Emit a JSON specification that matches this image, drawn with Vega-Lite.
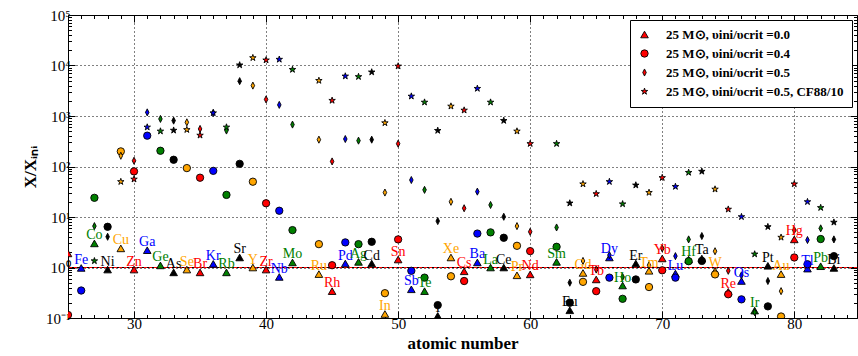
{
"$schema": "https://vega.github.io/schema/vega-lite/v6.json",
"width": 789, "height": 303,
"autosize": {"type": "none"},
"padding": {"left": 68, "top": 15, "right": 1, "bottom": 38},
"config": {"view": {"stroke": "black", "strokeWidth": 1}, "font": "Liberation Serif", "axis": {"labelFont": "Liberation Serif", "titleFont": "Liberation Serif", "labelColor": "black", "titleColor": "black", "tickColor": "black"}},
"data": {"values": [
{"Z":25,"el":"Mn","m":"a","v":1.9},{"Z":25,"el":"Mn","m":"b","v":0.115},
{"Z":26,"el":"Fe","m":"a","v":0.98},{"Z":26,"el":"Fe","m":"b","v":0.35},
{"Z":27,"el":"Co","m":"a","v":3.0},{"Z":27,"el":"Co","m":"b","v":24},{"Z":27,"el":"Co","m":"c","v":6.6},{"Z":27,"el":"Co","m":"d","v":1.35},
{"Z":28,"el":"Ni","m":"a","v":0.91},{"Z":28,"el":"Ni","m":"b","v":6.4},{"Z":28,"el":"Ni","m":"c","v":4.06},
{"Z":29,"el":"Cu","m":"a","v":2.39},{"Z":29,"el":"Cu","m":"b","v":199},{"Z":29,"el":"Cu","m":"c","v":163},{"Z":29,"el":"Cu","m":"d","v":50},
{"Z":30,"el":"Zn","m":"a","v":0.91},{"Z":30,"el":"Zn","m":"b","v":80},{"Z":30,"el":"Zn","m":"c","v":130},{"Z":30,"el":"Zn","m":"d","v":56},
{"Z":31,"el":"Ga","m":"a","v":2.2},{"Z":31,"el":"Ga","m":"b","v":408},{"Z":31,"el":"Ga","m":"c","v":1180},{"Z":31,"el":"Ga","m":"d","v":600},
{"Z":32,"el":"Ge","m":"a","v":1.1},{"Z":32,"el":"Ge","m":"b","v":205},{"Z":32,"el":"Ge","m":"c","v":875},{"Z":32,"el":"Ge","m":"d","v":500},
{"Z":33,"el":"As","m":"a","v":0.8},{"Z":33,"el":"As","m":"b","v":136},{"Z":33,"el":"As","m":"c","v":810},{"Z":33,"el":"As","m":"d","v":520},
{"Z":34,"el":"Se","m":"a","v":0.91},{"Z":34,"el":"Se","m":"b","v":93},{"Z":34,"el":"Se","m":"c","v":750},{"Z":34,"el":"Se","m":"d","v":535},
{"Z":35,"el":"Br","m":"a","v":0.8},{"Z":35,"el":"Br","m":"b","v":60},{"Z":35,"el":"Br","m":"c","v":555},{"Z":35,"el":"Br","m":"d","v":415},
{"Z":36,"el":"Kr","m":"a","v":1.18},{"Z":36,"el":"Kr","m":"b","v":82},{"Z":36,"el":"Kr","m":"c","v":1150},{"Z":36,"el":"Kr","m":"d","v":1150},
{"Z":37,"el":"Rb","m":"a","v":0.8},{"Z":37,"el":"Rb","m":"b","v":27.4},{"Z":37,"el":"Rb","m":"c","v":515},{"Z":37,"el":"Rb","m":"d","v":600},
{"Z":38,"el":"Sr","m":"a","v":1.58},{"Z":38,"el":"Sr","m":"b","v":113},{"Z":38,"el":"Sr","m":"c","v":4900},{"Z":38,"el":"Sr","m":"d","v":10200},
{"Z":39,"el":"Y","m":"a","v":1.0},{"Z":39,"el":"Y","m":"b","v":50},{"Z":39,"el":"Y","m":"c","v":4000},{"Z":39,"el":"Y","m":"d","v":14200},
{"Z":40,"el":"Zr","m":"a","v":0.91},{"Z":40,"el":"Zr","m":"b","v":18.7},{"Z":40,"el":"Zr","m":"c","v":2130},{"Z":40,"el":"Zr","m":"d","v":12800},
{"Z":41,"el":"Nb","m":"a","v":0.65},{"Z":41,"el":"Nb","m":"b","v":13.3},{"Z":41,"el":"Nb","m":"c","v":1660},{"Z":41,"el":"Nb","m":"d","v":13200},
{"Z":42,"el":"Mo","m":"a","v":1.26},{"Z":42,"el":"Mo","m":"b","v":5.5},{"Z":42,"el":"Mo","m":"c","v":676},{"Z":42,"el":"Mo","m":"d","v":8300},
{"Z":44,"el":"Ru","m":"a","v":0.74},{"Z":44,"el":"Ru","m":"b","v":2.9},{"Z":44,"el":"Ru","m":"c","v":340},{"Z":44,"el":"Ru","m":"d","v":5030},
{"Z":45,"el":"Rh","m":"a","v":0.34},{"Z":45,"el":"Rh","m":"b","v":1.11},{"Z":45,"el":"Rh","m":"c","v":126},{"Z":45,"el":"Rh","m":"d","v":2030},
{"Z":46,"el":"Pd","m":"a","v":1.2},{"Z":46,"el":"Pd","m":"b","v":3.14},{"Z":46,"el":"Pd","m":"c","v":350},{"Z":46,"el":"Pd","m":"d","v":6150},
{"Z":47,"el":"Ag","m":"a","v":1.29},{"Z":47,"el":"Ag","m":"b","v":2.9},{"Z":47,"el":"Ag","m":"c","v":325},{"Z":47,"el":"Ag","m":"d","v":6000},
{"Z":48,"el":"Cd","m":"a","v":1.2},{"Z":48,"el":"Cd","m":"b","v":3.23},{"Z":48,"el":"Cd","m":"c","v":340},{"Z":48,"el":"Cd","m":"d","v":7400},
{"Z":49,"el":"In","m":"a","v":0.12},{"Z":49,"el":"In","m":"b","v":0.31},{"Z":49,"el":"In","m":"c","v":30.5},{"Z":49,"el":"In","m":"d","v":730},
{"Z":50,"el":"Sn","m":"a","v":1.44},{"Z":50,"el":"Sn","m":"b","v":3.6},{"Z":50,"el":"Sn","m":"c","v":283},{"Z":50,"el":"Sn","m":"d","v":9700},
{"Z":51,"el":"Sb","m":"a","v":0.37},{"Z":51,"el":"Sb","m":"b","v":0.86},{"Z":51,"el":"Sb","m":"c","v":54},{"Z":51,"el":"Sb","m":"d","v":2460},
{"Z":52,"el":"Te","m":"a","v":0.34},{"Z":52,"el":"Te","m":"b","v":0.63},{"Z":52,"el":"Te","m":"c","v":34.5},{"Z":52,"el":"Te","m":"d","v":1870},
{"Z":53,"el":"I","m":"a","v":0.11},{"Z":53,"el":"I","m":"b","v":0.18},{"Z":53,"el":"I","m":"c","v":8.3},{"Z":53,"el":"I","m":"d","v":515},
{"Z":54,"el":"Xe","m":"a","v":1.58},{"Z":54,"el":"Xe","m":"b","v":0.67},{"Z":54,"el":"Xe","m":"c","v":20},{"Z":54,"el":"Xe","m":"d","v":1560},
{"Z":55,"el":"Cs","m":"a","v":0.84},{"Z":55,"el":"Cs","m":"b","v":0.54},{"Z":55,"el":"Cs","m":"c","v":14.9},{"Z":55,"el":"Cs","m":"d","v":1300},
{"Z":56,"el":"Ba","m":"a","v":1.26},{"Z":56,"el":"Ba","m":"b","v":4.7},{"Z":56,"el":"Ba","m":"c","v":31.8},{"Z":56,"el":"Ba","m":"d","v":3500},
{"Z":57,"el":"La","m":"a","v":1.0},{"Z":57,"el":"La","m":"b","v":4.96},{"Z":57,"el":"La","m":"c","v":17.3},{"Z":57,"el":"La","m":"d","v":1870},
{"Z":58,"el":"Ce","m":"a","v":1.0},{"Z":58,"el":"Ce","m":"b","v":3.88},{"Z":58,"el":"Ce","m":"c","v":10.1},{"Z":58,"el":"Ce","m":"d","v":810},
{"Z":59,"el":"Pr","m":"a","v":0.7},{"Z":59,"el":"Pr","m":"b","v":2.69},{"Z":59,"el":"Pr","m":"c","v":6.6},{"Z":59,"el":"Pr","m":"d","v":500},
{"Z":60,"el":"Nd","m":"a","v":0.73},{"Z":60,"el":"Nd","m":"b","v":2.11},{"Z":60,"el":"Nd","m":"c","v":5.1},{"Z":60,"el":"Nd","m":"d","v":283},
{"Z":62,"el":"Sm","m":"a","v":1.29},{"Z":62,"el":"Sm","m":"b","v":2.57},{"Z":62,"el":"Sm","m":"c","v":6.2},{"Z":62,"el":"Sm","m":"d","v":283},
{"Z":63,"el":"Eu","m":"a","v":0.142},{"Z":63,"el":"Eu","m":"b","v":0.2},{"Z":63,"el":"Eu","m":"c","v":0.5},{"Z":63,"el":"Eu","m":"d","v":18.8},
{"Z":64,"el":"Gd","m":"a","v":0.78},{"Z":64,"el":"Gd","m":"b","v":0.52},{"Z":64,"el":"Gd","m":"c","v":1.35},{"Z":64,"el":"Gd","m":"d","v":45},
{"Z":65,"el":"Tb","m":"a","v":0.58},{"Z":65,"el":"Tb","m":"b","v":0.34},{"Z":65,"el":"Tb","m":"c","v":0.91},{"Z":65,"el":"Tb","m":"d","v":28.8},
{"Z":66,"el":"Dy","m":"a","v":1.58},{"Z":66,"el":"Dy","m":"b","v":0.63},{"Z":66,"el":"Dy","m":"c","v":1.76},{"Z":66,"el":"Dy","m":"d","v":50},
{"Z":67,"el":"Ho","m":"a","v":0.44},{"Z":67,"el":"Ho","m":"b","v":0.24},{"Z":67,"el":"Ho","m":"c","v":0.65},{"Z":67,"el":"Ho","m":"d","v":18.1},
{"Z":68,"el":"Er","m":"a","v":1.2},{"Z":68,"el":"Er","m":"b","v":0.58},{"Z":68,"el":"Er","m":"d","v":42.7},
{"Z":69,"el":"Tm","m":"a","v":0.86},{"Z":69,"el":"Tm","m":"b","v":0.41},{"Z":69,"el":"Tm","m":"c","v":1.11},{"Z":69,"el":"Tm","m":"d","v":30.5},
{"Z":70,"el":"Yb","m":"a","v":1.51},{"Z":70,"el":"Yb","m":"b","v":0.88},{"Z":70,"el":"Yb","m":"c","v":2.39},{"Z":70,"el":"Yb","m":"d","v":60},
{"Z":71,"el":"Lu","m":"a","v":0.76},{"Z":71,"el":"Lu","m":"b","v":0.63},{"Z":71,"el":"Lu","m":"c","v":1.68},{"Z":71,"el":"Lu","m":"d","v":40},
{"Z":72,"el":"Hf","m":"a","v":1.44},{"Z":72,"el":"Hf","m":"b","v":1.33},{"Z":72,"el":"Hf","m":"c","v":3.6},{"Z":72,"el":"Hf","m":"d","v":76},
{"Z":73,"el":"Ta","m":"a","v":1.51},{"Z":73,"el":"Ta","m":"b","v":1.35},{"Z":73,"el":"Ta","m":"c","v":4.2},{"Z":73,"el":"Ta","m":"d","v":80},
{"Z":74,"el":"W","m":"a","v":0.85},{"Z":74,"el":"W","m":"b","v":0.73},{"Z":74,"el":"W","m":"c","v":2.1},{"Z":74,"el":"W","m":"d","v":35.5},
{"Z":75,"el":"Re","m":"a","v":0.33},{"Z":75,"el":"Re","m":"b","v":0.295},{"Z":75,"el":"Re","m":"c","v":0.86},{"Z":75,"el":"Re","m":"d","v":14.2},
{"Z":76,"el":"Os","m":"a","v":0.54},{"Z":76,"el":"Os","m":"b","v":0.234},{"Z":76,"el":"Os","m":"c","v":0.7},{"Z":76,"el":"Os","m":"d","v":10.1},
{"Z":77,"el":"Ir","m":"a","v":0.14},{"Z":77,"el":"Ir","m":"c","v":0.13},{"Z":77,"el":"Ir","m":"d","v":1.84},
{"Z":78,"el":"Pt","m":"a","v":1.08},{"Z":78,"el":"Pt","m":"b","v":0.17},{"Z":78,"el":"Pt","m":"c","v":0.54},{"Z":78,"el":"Pt","m":"d","v":6.4},
{"Z":79,"el":"Au","m":"a","v":0.74},{"Z":79,"el":"Au","m":"b","v":0.107},{"Z":79,"el":"Au","m":"c","v":0.34},{"Z":79,"el":"Au","m":"d","v":3.95},
{"Z":80,"el":"Hg","m":"a","v":3.6},{"Z":80,"el":"Hg","m":"b","v":1.58},{"Z":80,"el":"Hg","m":"c","v":5.5},{"Z":80,"el":"Hg","m":"d","v":45},
{"Z":81,"el":"Tl","m":"a","v":0.95},{"Z":81,"el":"Tl","m":"b","v":1.16},{"Z":81,"el":"Tl","m":"c","v":3.5},{"Z":81,"el":"Tl","m":"d","v":20},
{"Z":82,"el":"Pb","m":"a","v":1.06},{"Z":82,"el":"Pb","m":"b","v":3.66},{"Z":82,"el":"Pb","m":"c","v":5.96},{"Z":82,"el":"Pb","m":"d","v":15.3},
{"Z":83,"el":"Bi","m":"a","v":0.98},{"Z":83,"el":"Bi","m":"b","v":1.68},{"Z":83,"el":"Bi","m":"c","v":3.6},{"Z":83,"el":"Bi","m":"d","v":7.85}
]},
"layer": [
{"mark": {"type": "rule", "color": "black", "strokeWidth": 1}, "encoding": {"y": {"datum": 1, "type": "quantitative", "scale": {"type": "log", "domain": [0.1, 100000], "nice": false}, "axis": null}}},
{"mark": {"type": "rule", "color": "red", "strokeWidth": 1, "strokeDash": [3, 2]}, "encoding": {"y": {"datum": 1, "type": "quantitative", "axis": null}}},
{"mark": {"type": "point", "filled": true, "opacity": 1, "stroke": "black", "strokeWidth": 0.9, "clip": true},
 "encoding": {
  "x": {"field": "Z", "type": "quantitative", "scale": {"domain": [25, 84.75], "nice": false, "zero": false},
        "axis": {"orient": "bottom", "values": [25,26,27,28,29,30,31,32,33,34,35,36,37,38,39,40,41,42,43,44,45,46,47,48,49,50,51,52,53,54,55,56,57,58,59,60,61,62,63,64,65,66,67,68,69,70,71,72,73,74,75,76,77,78,79,80,81,82,83,84],
                 "labelExpr": "datum.value % 10 == 0 ? datum.label : ''", "labelFontSize": 15, "labelPadding": 5,
                 "tickSize": {"condition": {"test": "datum.value % 10 == 0", "value": -7}, "value": -3.5},
                 "grid": true, "gridColor": "black", "gridDash": [1, 3], "gridOpacity": {"condition": {"test": "datum.value % 10 == 0", "value": 1}, "value": 0},
                 "domain": false, "title": "atomic number", "titleFontSize": 17, "titleFontWeight": "bold", "titlePadding": 4}},
  "y": {"field": "v", "type": "quantitative", "scale": {"type": "log", "domain": [0.1, 100000], "nice": false},
        "axis": {"orient": "left", "values": [0.1,0.2,0.3,0.4,0.5,0.6,0.7,0.8,0.9,1,2,3,4,5,6,7,8,9,10,20,30,40,50,60,70,80,90,100,200,300,400,500,600,700,800,900,1000,2000,3000,4000,5000,6000,7000,8000,9000,10000,20000,30000,40000,50000,60000,70000,80000,90000,100000],
                 "labelExpr": "abs(log(datum.value)/LN10 - round(log(datum.value)/LN10)) > 0.01 ? '' : ['10⁻¹','10⁰','10¹','10²','10³','10⁴','10⁵'][round(log(datum.value)/LN10)+1]",
                 "labelFontSize": 15, "labelPadding": 5,
                 "tickSize": {"condition": {"test": "abs(log(datum.value)/LN10 - round(log(datum.value)/LN10)) < 0.01", "value": -7}, "value": -3.5},
                 "grid": true, "gridColor": "black", "gridDash": [1, 3], "gridOpacity": {"condition": {"test": "abs(log(datum.value)/LN10 - round(log(datum.value)/LN10)) < 0.01", "value": 1}, "value": 0},
                 "domain": false, "title": "X/Xᵢₙᵢ", "titleFontSize": 17, "titleFontWeight": "bold", "titlePadding": 6}},
  "shape": {"field": "m", "type": "nominal", "scale": {"domain": ["a","b","c","d"], "range": ["triangle-up", "circle", "M0,-1L0.5,0L0,1L-0.5,0Z", "M0,-1L0.2245,-0.309L0.951,-0.309L0.363,0.118L0.588,0.809L0,0.382L-0.588,0.809L-0.363,0.118L-0.951,-0.309L-0.2245,-0.309Z"]},
            "legend": {"title": null, "orient": "top-right", "offset": 5, "padding": 8, "rowPadding": 5, "labelOffset": 15,
                       "fillColor": "white", "strokeColor": "black", "cornerRadius": 0,
                       "symbolFillColor": "red", "symbolStrokeColor": "black", "symbolStrokeWidth": 0.9, "symbolOpacity": 1,
                       "labelFont": "Liberation Serif", "labelFontSize": 13, "labelFontWeight": "bold", "labelColor": "black", "labelLimit": 400,
                       "labelExpr": "datum.value == 'a' ? '25 M⊙, υini/υcrit =0.0' : datum.value == 'b' ? '25 M⊙, υini/υcrit =0.4' : datum.value == 'c' ? '25 M⊙, υini/υcrit =0.5' : '25 M⊙, υini/υcrit =0.5, CF88/10'",
                       "encode": {"symbols": {"update": {"fill": {"value": "red"}, "stroke": {"value": "black"}, "strokeWidth": {"value": 0.9}, "opacity": {"value": 1}}}}}},
  "size": {"field": "m", "type": "nominal", "scale": {"domain": ["a","b","c","d"], "range": [58, 46, 88, 58]}},
  "color": {"field": "el", "type": "nominal", "legend": null,
            "scale": {"domain": ["Mn","Fe","Co","Ni","Cu","Zn","Ga","Ge","As","Se","Br","Kr","Rb","Sr","Y","Zr","Nb","Mo","Ru","Rh","Pd","Ag","Cd","In","Sn","Sb","Te","I","Xe","Cs","Ba","La","Ce","Pr","Nd","Sm","Eu","Gd","Tb","Dy","Ho","Er","Tm","Yb","Lu","Hf","Ta","W","Re","Os","Ir","Pt","Au","Hg","Tl","Pb","Bi"],
                      "range": ["#ff0000","#0000ff","#008000","#000000","#ffa500","#ff0000","#0000ff","#008000","#000000","#ffa500","#ff0000","#0000ff","#008000","#000000","#ffa500","#ff0000","#0000ff","#008000","#ffa500","#ff0000","#0000ff","#008000","#000000","#ffa500","#ff0000","#0000ff","#008000","#000000","#ffa500","#ff0000","#0000ff","#008000","#000000","#ffa500","#ff0000","#008000","#000000","#ffa500","#ff0000","#0000ff","#008000","#000000","#ffa500","#ff0000","#0000ff","#008000","#000000","#ffa500","#ff0000","#0000ff","#008000","#000000","#ffa500","#ff0000","#0000ff","#008000","#000000"]}}
 }},
{"transform": [{"filter": "datum.m == 'a' && datum.Z > 25"}],
 "mark": {"type": "text", "dy": -8, "baseline": "middle", "align": "center", "fontSize": 14, "font": "Liberation Serif"},
 "encoding": {"x": {"field": "Z", "type": "quantitative", "axis": null}, "y": {"field": "v", "type": "quantitative", "axis": null}, "text": {"field": "el"}, "color": {"field": "el", "type": "nominal", "legend": null}}},
{"mark": {"type": "point", "opacity": 0},
 "encoding": {
  "x": {"field": "Z", "type": "quantitative", "axis": {"orient": "top", "values": [25,26,27,28,29,30,31,32,33,34,35,36,37,38,39,40,41,42,43,44,45,46,47,48,49,50,51,52,53,54,55,56,57,58,59,60,61,62,63,64,65,66,67,68,69,70,71,72,73,74,75,76,77,78,79,80,81,82,83,84], "labels": false, "grid": false, "domain": false, "title": null,
        "tickSize": {"condition": {"test": "datum.value % 10 == 0", "value": -7}, "value": -3.5}}},
  "y": {"field": "v", "type": "quantitative", "axis": {"orient": "right", "values": [0.1,0.2,0.3,0.4,0.5,0.6,0.7,0.8,0.9,1,2,3,4,5,6,7,8,9,10,20,30,40,50,60,70,80,90,100,200,300,400,500,600,700,800,900,1000,2000,3000,4000,5000,6000,7000,8000,9000,10000,20000,30000,40000,50000,60000,70000,80000,90000,100000], "labels": false, "grid": false, "domain": false, "title": null,
        "tickSize": {"condition": {"test": "abs(log(datum.value)/LN10 - round(log(datum.value)/LN10)) < 0.01", "value": -7}, "value": -3.5}}}
 }}
],
"resolve": {"axis": {"x": "independent", "y": "independent"}}
}
